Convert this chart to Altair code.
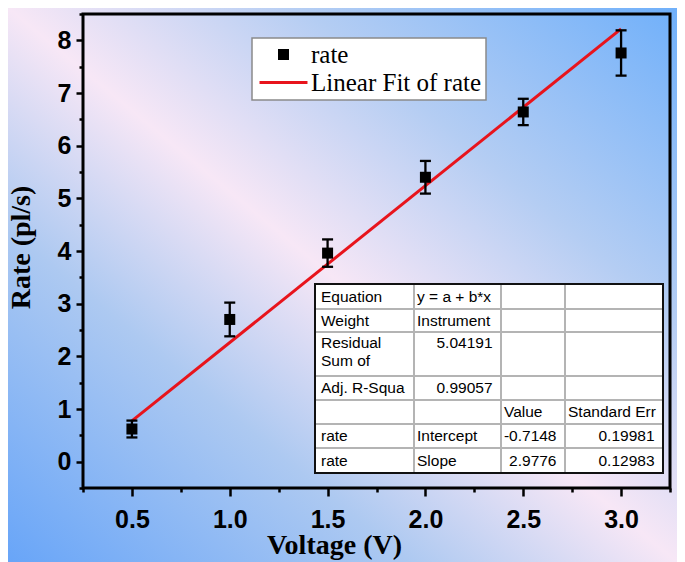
import altair as alt
import pandas as pd

# ---------------- data ----------------
voltage = [0.5, 1.0, 1.5, 2.0, 2.5, 3.0]
rate = [0.62, 2.70, 3.96, 5.40, 6.64, 7.76]
rate_err = [0.16, 0.32, 0.26, 0.31, 0.25, 0.43]

fit_intercept = -0.7148
fit_slope = 2.9776
fit_voltage = [0.5, 3.0]

series_names = ["rate", "Linear Fit of rate"]

x_tick_values = [0.25, 0.5, 0.75, 1.0, 1.25, 1.5, 1.75, 2.0, 2.25, 2.5, 2.75, 3.0, 3.25]
y_major_ticks = [0, 1, 2, 3, 4, 5, 6, 7, 8]
y_minor_ticks = [-0.5, 0.5, 1.5, 2.5, 3.5, 4.5, 5.5, 6.5, 7.5, 8.5]

table_cells = [
    ["Equation", "y = a + b*x", "", ""],
    ["Weight", "Instrument", "", ""],
    ["Residual\nSum of", "5.04191", "", ""],
    ["Adj. R-Squa", "0.99057", "", ""],
    ["", "", "Value", "Standard Err"],
    ["rate", "Intercept", "-0.7148", "0.19981"],
    ["rate", "Slope", "2.9776", "0.12983"],
]
right_aligned_cells = ["5.04191", "0.99057", "-0.7148", "0.19981", "2.9776", "0.12983"]

# ---------------- layout (pixels, relative to plot area) ----------------
W, H = 587, 474
PAD = {"left": 75, "top": 6, "right": 7, "bottom": 74}
table_col_edges = [232, 331, 418, 482, 580]
table_row_edges = [270, 295, 318, 362, 386, 410, 434, 459]
RED = "#e8141c"

# ---------------- frames ----------------
df = pd.DataFrame({"voltage": voltage, "rate": rate, "err": rate_err,
                   "series": ["rate"] * len(voltage)})
df["lo"] = df["rate"] - df["err"]
df["hi"] = df["rate"] + df["err"]

fit_df = pd.DataFrame({"voltage": fit_voltage})

tbl_box = pd.DataFrame({"x0": [table_col_edges[0]], "x1": [table_col_edges[-1]],
                        "y0": [table_row_edges[0]], "y1": [table_row_edges[-1]]})
grid_rows = []
for yv in table_row_edges[1:-1]:
    grid_rows.append({"x0": table_col_edges[0], "x1": table_col_edges[-1], "y0": yv, "y1": yv})
for xv in table_col_edges[1:-1]:
    grid_rows.append({"x0": xv, "x1": xv, "y0": table_row_edges[0], "y1": table_row_edges[-1]})
grid_df = pd.DataFrame(grid_rows)

text_rows = []
for r, row in enumerate(table_cells):
    for c, txt in enumerate(row):
        if not txt:
            continue
        top, bot = table_row_edges[r], table_row_edges[r + 1]
        nlines = txt.count("\n") + 1
        yc = (top + bot) / 2 if nlines == 1 else top + 11
        if txt in right_aligned_cells:
            yc = top + 11 if r == 2 else yc
            text_rows.append({"px": table_col_edges[c + 1] - 8.5, "py": yc, "t": txt, "al": "right"})
        else:
            pad = 6 if c == 0 else 3
            text_rows.append({"px": table_col_edges[c] + pad, "py": yc, "t": txt, "al": "left"})
text_df = pd.DataFrame(text_rows)

# ---------------- scales / axes ----------------
xscale = alt.Scale(domain=[0.25, 3.25], nice=False, zero=False)
yscale = alt.Scale(domain=[-0.5, 8.5], nice=False, zero=False)

xaxis = alt.Axis(
    values=x_tick_values,
    labelExpr="(datum.value*4) % 2 == 0 ? format(datum.value, '.1f') : ''",
    tickSize=8,
    tickDash={"condition": {"test": "(datum.value*4) % 2 != 0", "value": [4, 30]}, "value": [1, 0]},
    labelPadding=11, labelFont="Liberation Sans", labelFontWeight="bold", labelFontSize=25,
    labelColor="black", tickColor="black", tickWidth=2.5, domain=False, grid=False,
    title="Voltage (V)", titleFont="Liberation Serif", titleFontWeight="bold", titleFontSize=28,
    titleColor="black", titleX=251, titleY=65, titleAlign="center", titleBaseline="alphabetic",
    zindex=1, labelFlush=False, labelOverlap=False,
)
yaxis_major = alt.Axis(
    orient="left", values=y_major_ticks, format="d", tickSize=7,
    labelPadding=5, labelFont="Liberation Sans", labelFontWeight="bold", labelFontSize=25,
    labelColor="black", tickColor="black", tickWidth=2.5, domain=False, grid=False,
    title="Rate (pl/s)", titleFont="Liberation Serif", titleFontWeight="bold", titleFontSize=28,
    titleColor="black", titleX=-54, titleY=233, titleAngle=270, titleAlign="center",
    titleBaseline="alphabetic", zindex=1, labelFlush=False, labelOverlap=False,
)
yaxis_minor = alt.Axis(
    orient="left", values=y_minor_ticks, tickSize=4, labels=False, title=None,
    tickColor="black", tickWidth=2.5, domain=False, grid=False, zindex=1,
)

X = alt.X("voltage:Q", scale=xscale, axis=xaxis)

# ---------------- layers ----------------
gradient = alt.LinearGradient(
    gradient="linear",
    stops=[
        alt.GradientStop(color="#68a5f8", offset=0),
        alt.GradientStop(color="#adc9f1", offset=0.3),
        alt.GradientStop(color="#f7e7f6", offset=0.5),
        alt.GradientStop(color="#b4cdf3", offset=0.72),
        alt.GradientStop(color="#70b0fa", offset=1),
    ],
    x1=0, y1=1, x2=1, y2=0,
)
bg = alt.Chart(pd.DataFrame({"k": [0]})).mark_rect(fill=gradient).encode(
    x=alt.value(-PAD["left"]), x2=alt.value(W + PAD["right"]),
    y=alt.value(-PAD["top"]), y2=alt.value(H + PAD["bottom"]),
)

fit = alt.Chart(fit_df).transform_calculate(
    fit=f"{fit_intercept} + {fit_slope} * datum.voltage"
).mark_line(color=RED, strokeWidth=3).encode(
    x=X, y=alt.Y("fit:Q", scale=yscale, axis=yaxis_major)
)

err_rule = alt.Chart(df).mark_rule(color="black", strokeWidth=2.3).encode(
    x=alt.X("voltage:Q"), y=alt.Y("lo:Q", scale=yscale, axis=yaxis_minor), y2="hi:Q"
)
cap_lo = alt.Chart(df).mark_tick(color="black", thickness=2.3, size=11, orient="horizontal", opacity=1).encode(
    x=alt.X("voltage:Q"), y=alt.Y("lo:Q", axis=None)
)
cap_hi = alt.Chart(df).mark_tick(color="black", thickness=2.3, size=11, orient="horizontal", opacity=1).encode(
    x=alt.X("voltage:Q"), y=alt.Y("hi:Q", axis=None)
)

legend = alt.Legend(
    title=None, orient="none", legendX=169, legendY=24, fillColor="white",
    strokeColor="#8a8a8a", padding=4, labelFont="Liberation Serif", labelFontSize=25,
    labelColor="black", labelLimit=400, symbolSize=121, symbolOffset=15, labelOffset=15,
    rowPadding=2, symbolStrokeWidth=0, symbolOpacity=1, zindex=1,
)
points = alt.Chart(df).mark_point(filled=True, size=121, opacity=1).encode(
    x=alt.X("voltage:Q"), y=alt.Y("rate:Q", axis=None),
    color=alt.Color("series:N", scale=alt.Scale(domain=series_names, range=["black", RED]), legend=legend),
    shape=alt.Shape("series:N", scale=alt.Scale(domain=series_names,
                    range=["square", "M-4.36,-0.27H4.36V0.27H-4.36Z"]), legend=legend),
)

tbl_fill = alt.Chart(tbl_box).mark_rect(fill="white").encode(
    x=alt.X("x0:Q", scale=None, axis=None), x2="x1:Q",
    y=alt.Y("y0:Q", scale=None, axis=None), y2="y1:Q",
)
tbl_grid = alt.Chart(grid_df).mark_rule(color="#b4b4b4", strokeWidth=2).encode(
    x=alt.X("x0:Q", scale=None, axis=None), x2="x1:Q",
    y=alt.Y("y0:Q", scale=None, axis=None), y2="y1:Q",
)
tbl_border = alt.Chart(tbl_box).mark_rect(fillOpacity=0, stroke="#111111", strokeWidth=2).encode(
    x=alt.X("x0:Q", scale=None, axis=None), x2="x1:Q",
    y=alt.Y("y0:Q", scale=None, axis=None), y2="y1:Q",
)
txt_left = alt.Chart(text_df).transform_filter("datum.al == 'left'").mark_text(
    align="left", baseline="middle", font="Liberation Sans", fontSize=15.5, color="black",
    lineBreak="\n", lineHeight=17.5
).encode(x=alt.X("px:Q", scale=None, axis=None), y=alt.Y("py:Q", scale=None, axis=None), text="t:N")
txt_right = alt.Chart(text_df).transform_filter("datum.al == 'right'").mark_text(
    align="right", baseline="middle", font="Liberation Sans", fontSize=15.5, color="black"
).encode(x=alt.X("px:Q", scale=None, axis=None), y=alt.Y("py:Q", scale=None, axis=None), text="t:N")

frame = alt.Chart(pd.DataFrame({"k": [0]})).mark_rect(fillOpacity=0, stroke="black", strokeWidth=3).encode(
    x=alt.value(0), x2=alt.value(W), y=alt.value(0), y2=alt.value(H)
)

chart = alt.layer(
    bg, fit, err_rule, cap_lo, cap_hi, points, tbl_fill, tbl_grid, tbl_border, txt_left, txt_right, frame
).resolve_axis(y="independent").properties(
    width=W, height=H, autosize=alt.AutoSizeParams(type="none"), padding=PAD
).configure_view(stroke=None).configure_legend(strokeWidth=1.5)

chart.save("out.html", embed_options={"renderer": "svg", "actions": False})
